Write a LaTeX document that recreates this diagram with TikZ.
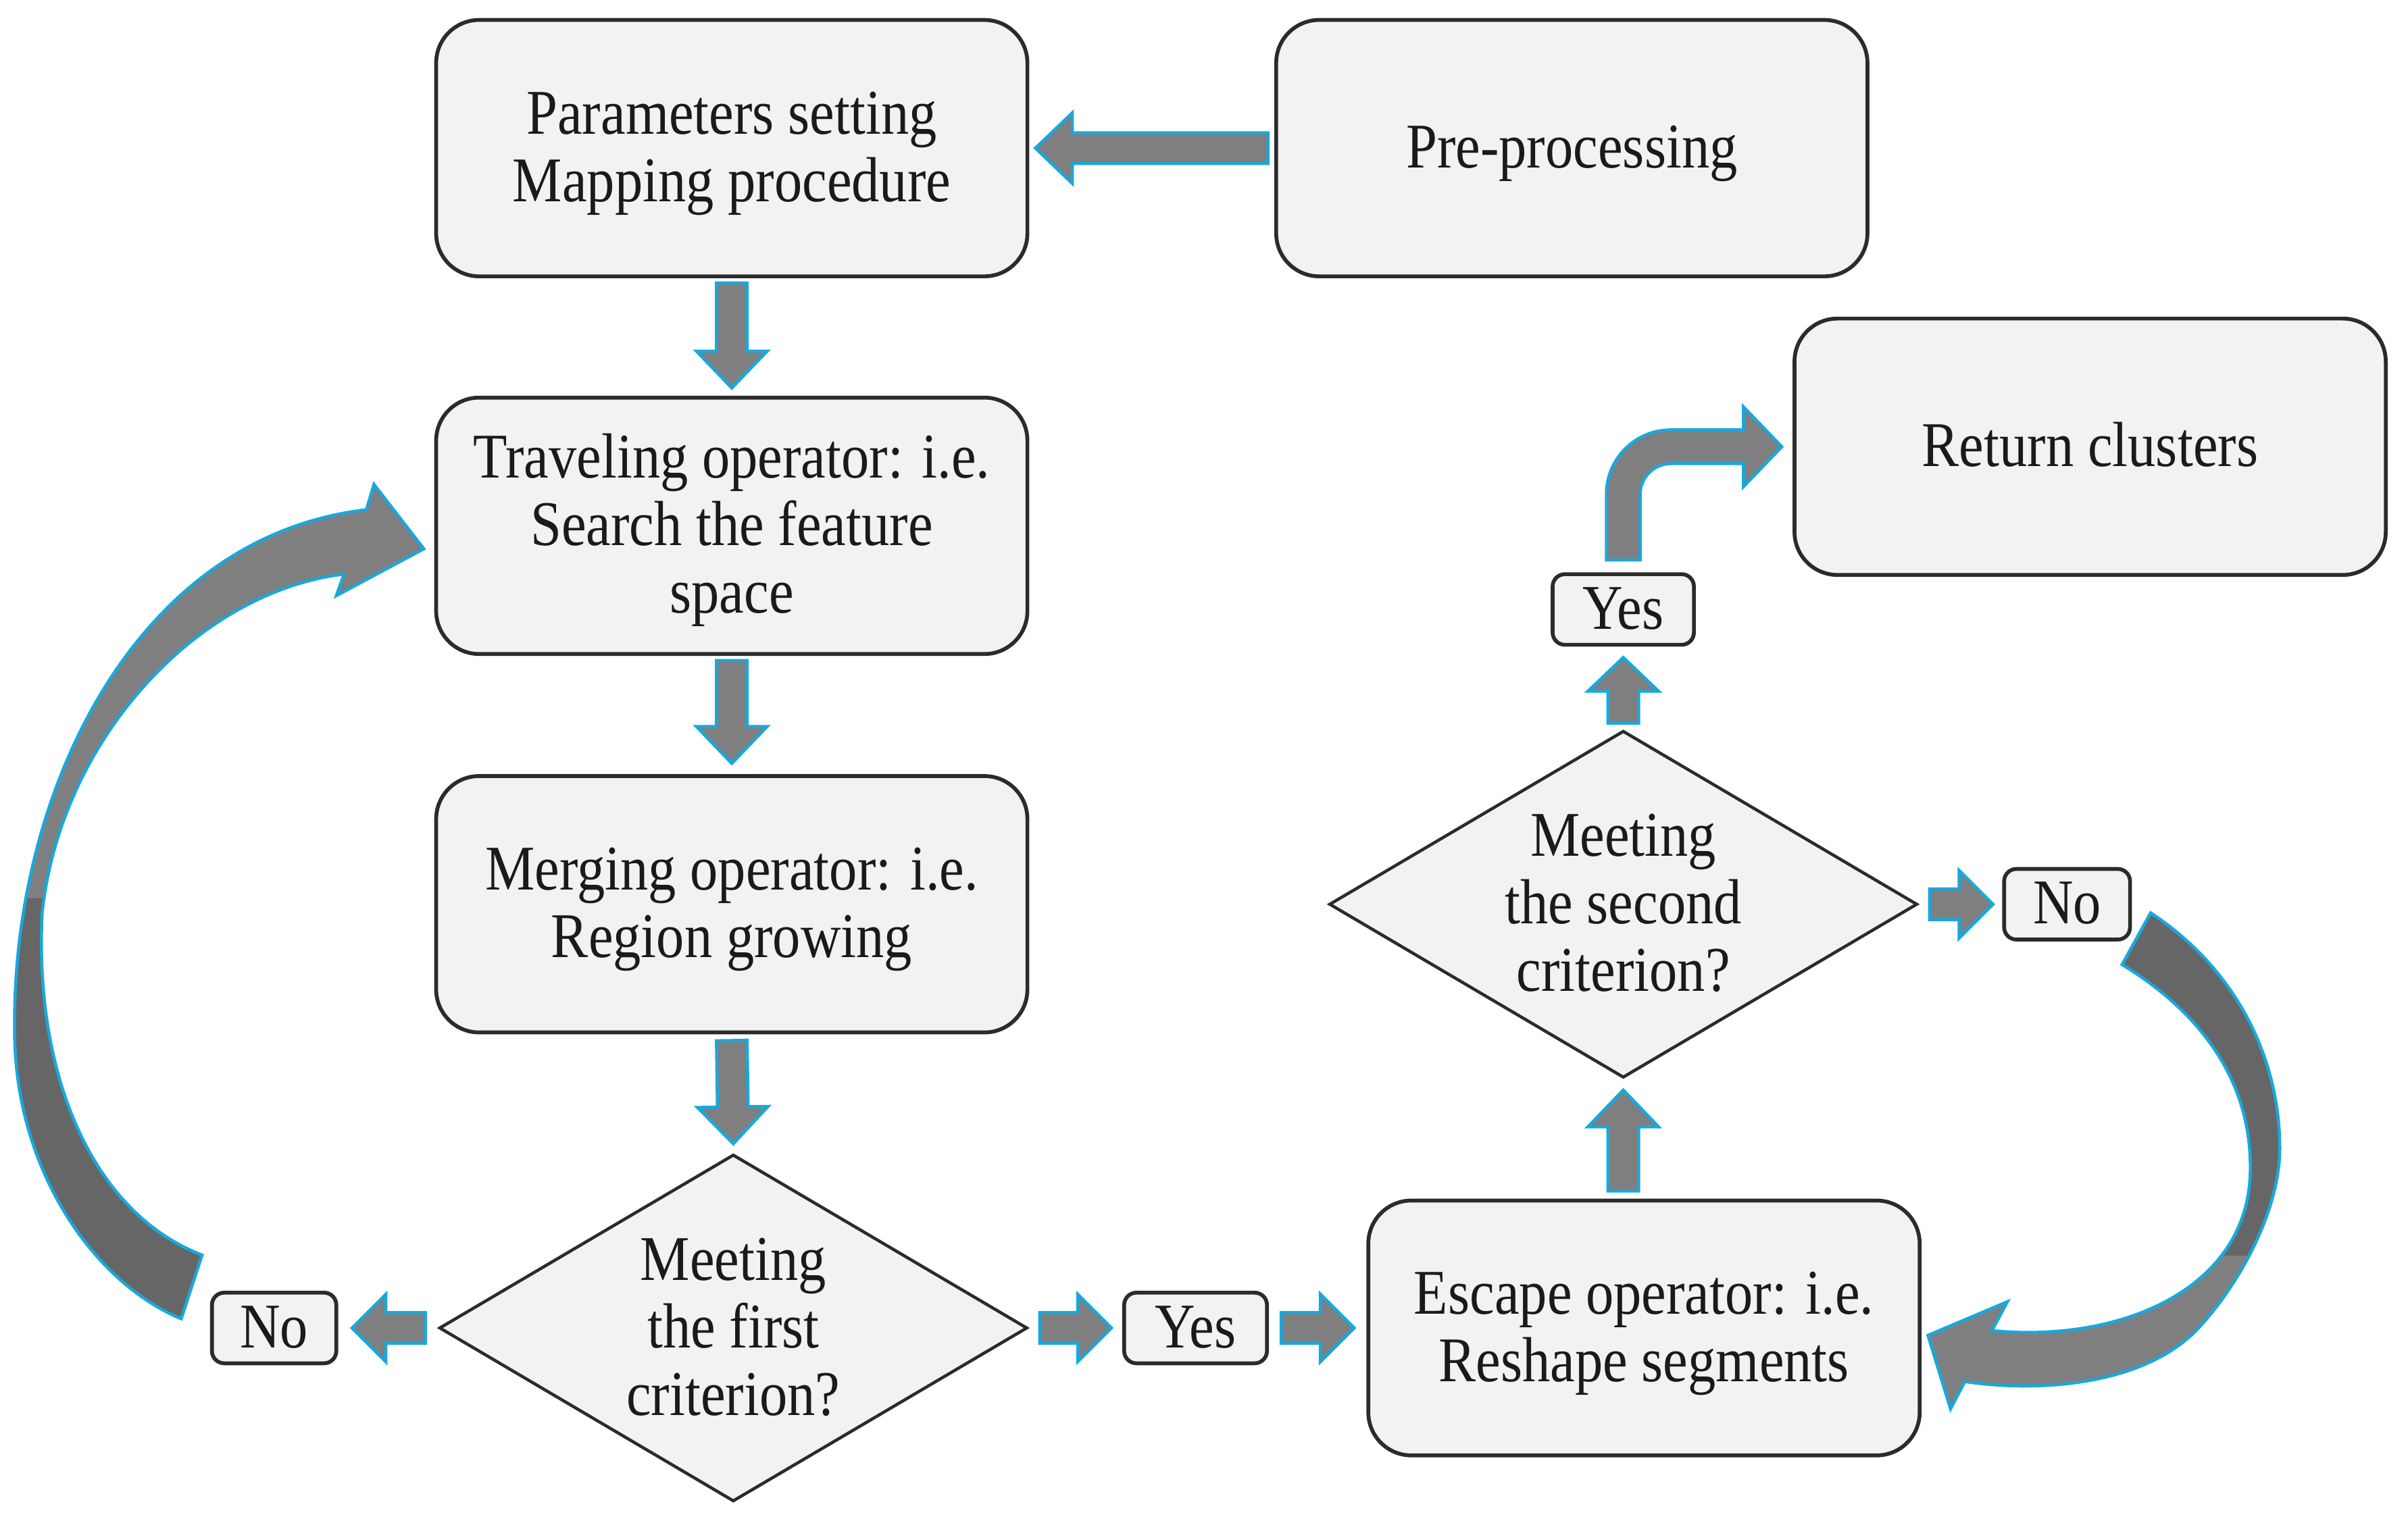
\documentclass[tikz,border=0pt]{standalone}
\usepackage{fontspec}
\setmainfont{Liberation Serif}[FakeStretch=0.875]
\usetikzlibrary{calc,shapes.geometric}
\definecolor{boxfill}{HTML}{F2F2F2}
\definecolor{boxline}{HTML}{2B2B2B}
\definecolor{arrfill}{HTML}{7F7F7F}
\definecolor{arrdark}{HTML}{666666}
\definecolor{arrline}{HTML}{19A8DC}
\definecolor{txt}{HTML}{1A1A1A}
\newcommand\tx[1]{\raisebox{-4pt}[\height][\depth]{\begin{tabular}{@{}c@{}}#1\end{tabular}}}
\newcommand\blockarrow[5]{%
  \coordinate (bahead) at ($(#2)!#5!(#1)$);
  \draw[blockarr] ($(#1)!#3!90:(#2)$) -- ($(bahead)!#3!90:(#2)$) -- ($(bahead)!#4!90:(#2)$) -- (#2)
     -- ($(bahead)!#4!-90:(#2)$) -- ($(bahead)!#3!-90:(#2)$) -- ($(#1)!#3!-90:(#2)$) -- cycle;
}
\tikzset{
  procbox/.style={draw=boxline, fill=boxfill, line width=2.5pt, rounded corners=28pt,
    minimum width=385pt, minimum height=167pt, inner sep=0pt, text=txt,
    font=\fontsize{41.5}{44}\selectfont},
  tagbox/.style={draw=boxline, fill=boxfill, line width=2.5pt, rounded corners=8pt,
    minimum height=46pt, inner sep=0pt, text=txt, font=\fontsize{41.5}{44}\selectfont},
  decision/.style={diamond, aspect=1.7, draw=boxline, fill=boxfill, line width=2pt, inner sep=0pt,
    minimum width=383pt, minimum height=226pt, text=txt,
    font=\fontsize{41.5}{44}\selectfont},
  blockarr/.style={fill=arrfill, draw=arrline, line width=2pt, line join=miter},
  curvedge/.style={draw=arrline, line width=2pt, line join=miter},
}
\begin{document}
\begin{tikzpicture}[x=1pt,y=-1pt]
\useasboundingbox[fill=white] (0,0) rectangle (1568,988);

% nodes
\node[procbox] (b1) at (476.5,96.5) {\tx{Parameters setting\\Mapping procedure}};
\node[procbox] (pre) at (1023.5,96.5) {\tx{Pre-processing}};
\node[procbox] (trav) at (476.5,342.5) {\tx{Traveling operator: i.e.\\Search the feature\\space}};
\node[procbox] (merg) at (476.5,589) {\tx{Merging operator: i.e.\\Region growing}};
\node[decision] (d1) at (477.5,865) {\tx{Meeting\\the first\\criterion?}};
\node[procbox, minimum width=359pt, minimum height=166pt] (esc) at (1070.5,865) {\tx{Escape operator: i.e.\\Reshape segments}};
\node[decision] (d2) at (1057,589) {\tx{Meeting\\the second\\criterion?}};
\node[procbox] (ret) at (1361,291) {\tx{Return clusters}};
\node[tagbox, minimum width=92pt] (yes2) at (1057,397) {\tx{Yes}};
\node[tagbox, minimum width=82pt] (no2) at (1346,589) {\tx{No}};
\node[tagbox, minimum width=81pt] (no1) at (178.5,865) {\tx{No}};
\node[tagbox, minimum width=93pt] (yes1) at (778.5,865) {\tx{Yes}};

% straight block arrows
\coordinate (a1s) at ($(pre.west)+(-4,0)$);
\coordinate (a1e) at ($(b1.east)+(4,0)$);
\blockarrow{a1s}{a1e}{10pt}{23pt}{24pt}
\coordinate (a2s) at ($(b1.south)+(0,3)$);
\coordinate (a2e) at ($(trav.north)+(0,-5)$);
\blockarrow{a2s}{a2e}{10pt}{23pt}{24pt}
\coordinate (a3s) at ($(trav.south)+(0,3)$);
\coordinate (a3e) at ($(merg.north)+(0,-7)$);
\blockarrow{a3s}{a3e}{10pt}{23pt}{24pt}
\coordinate (a4s) at ($(merg.south)+(0,4)$);
\coordinate (a4e) at ($(d1.north)+(0,-6)$);
\blockarrow{a4s}{a4e}{10pt}{23pt}{24pt}
\coordinate (a5s) at ($(d1.west)+(-8,0)$);
\coordinate (a5e) at ($(no1.east)+(9,0)$);
\blockarrow{a5s}{a5e}{10pt}{22pt}{22pt}
\coordinate (a6s) at ($(d1.east)+(7,0)$);
\coordinate (a6e) at ($(yes1.west)+(-7,0)$);
\blockarrow{a6s}{a6e}{10pt}{22pt}{22pt}
\coordinate (a7s) at ($(yes1.east)+(8,0)$);
\coordinate (a7e) at ($(esc.west)+(-8,0)$);
\blockarrow{a7s}{a7e}{10pt}{22pt}{22pt}
\coordinate (a8s) at ($(d2.south |- esc.north)+(0,-5)$);
\coordinate (a8e) at ($(d2.south)+(0,7)$);
\blockarrow{a8s}{a8e}{10pt}{23pt}{24pt}
\coordinate (a9s) at ($(d2.north)+(0,-4)$);
\coordinate (a9e) at ($(yes2.south)+(0,7)$);
\blockarrow{a9s}{a9e}{10pt}{23pt}{22pt}
\coordinate (a10s) at ($(d2.east)+(7,0)$);
\coordinate (a10e) at ($(no2.west)+(-6,0)$);
\blockarrow{a10s}{a10e}{10pt}{22pt}{22pt}

% bent arrow Yes -> Return clusters
\coordinate (bs) at ($(yes2.north)+(0,-8)$);
\coordinate (be) at ($(ret.west)+(-7,0)$);
\coordinate (bc) at (bs |- be);
\draw[blockarr] ($(bs)+(-11,0)$) -- ($(bc)+(-11,31)$)
  .. controls ($(bc)+(-11,7.8)$) and ($(bc)+(7.8,-11)$) .. ($(bc)+(31,-11)$)
  -- ($(be)+(-25,-11)$) -- ($(be)+(-25,-26)$) -- (be) -- ($(be)+(-25,26)$) -- ($(be)+(-25,11)$)
  -- ($(bc)+(31,11)$) .. controls ($(bc)+(20,11)$) and ($(bc)+(11,20)$) .. ($(bc)+(11,31)$)
  -- ($(bs)+(11,0)$) -- cycle;

% left curved arrow No -> Traveling
\def\leftarrowpath{(118,859) .. controls (60,835) and (9,760) .. (9.5,670)
  .. controls (8,520) and (85,350) .. (238.6,332) -- (243.5,315.5) -- (276,357.5) -- (219,388) -- (224,374)
  .. controls (130,385) and (40,480) .. (27.5,594) .. controls (22,700) and (60,790) .. (131.6,817.5) -- cycle}
\fill[arrfill] \leftarrowpath;
\begin{scope}
  \clip \leftarrowpath;
  \fill[arrdark] (0,585) rectangle (160,900);
\end{scope}
\draw[curvedge] \leftarrowpath;

% right curved arrow No -> Escape
\def\rightarrowpath{(1400.4,594.6) .. controls (1455,630.4) and (1484.5,688) .. (1484.5,748)
  .. controls (1484.5,788) and (1458.7,836) .. (1431.4,865.2)
  .. controls (1397.3,901.75) and (1329.4,907.4) .. (1279.4,899.9)
  -- (1270.1,917.7) -- (1255.4,869.8) -- (1307.1,847.9) -- (1297.1,866.7)
  .. controls (1380,875) and (1466,840) .. (1465.3,760)
  .. controls (1465.3,700) and (1428.8,656.8) .. (1381.8,628.3) -- cycle}
\fill[arrfill] \rightarrowpath;
\begin{scope}
  \clip \rightarrowpath;
  \fill[arrdark] (1370,570) rectangle (1510,818);
\end{scope}
\draw[curvedge] \rightarrowpath;
\end{tikzpicture}
\end{document}
